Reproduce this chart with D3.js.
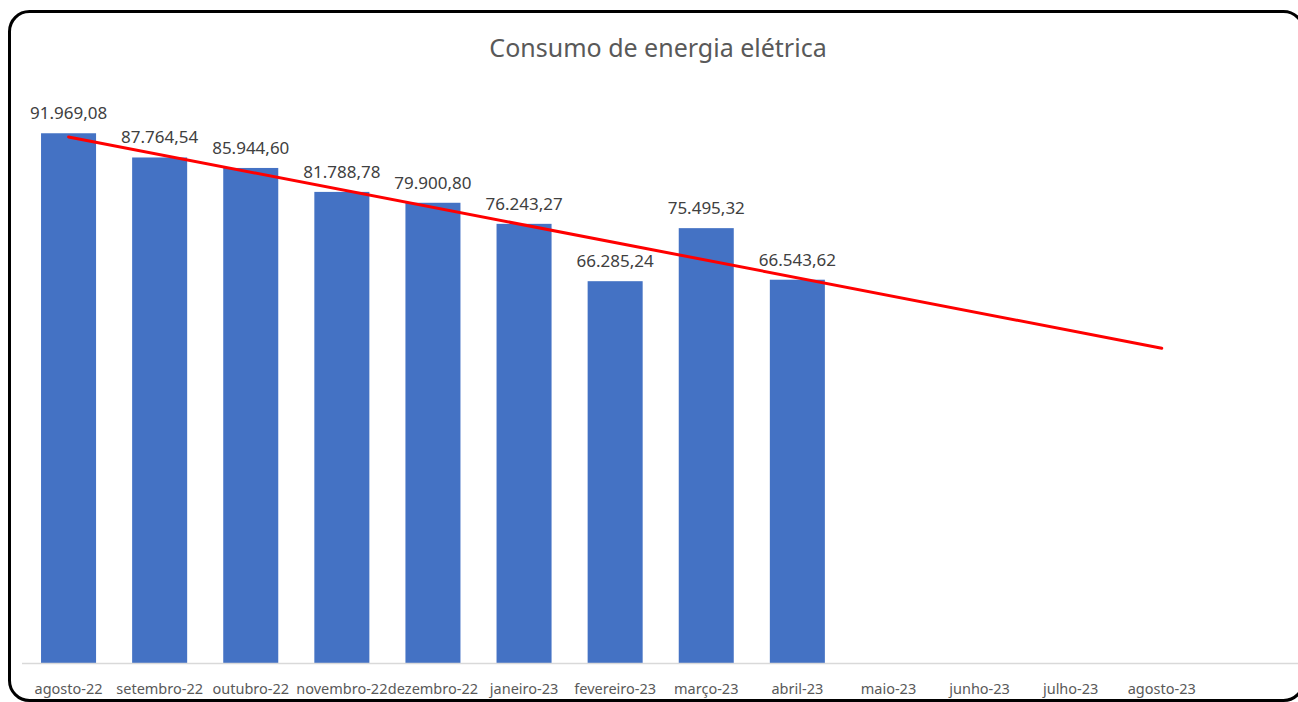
<!DOCTYPE html>
<html>
<head>
<meta charset="utf-8">
<script src="https://cdn.jsdelivr.net/npm/d3@7"></script>
<style>
  html, body { margin: 0; padding: 0; background: #ffffff; }
  svg { display: block; }
  text { font-family: "Noto Sans", "Open Sans", sans-serif; }
</style>
</head>
<body>
<svg id="chart" width="1298" height="702"></svg>
<script>
// ---- data ----
const title = "Consumo de energia elétrica";
const categories = ["agosto-22", "setembro-22", "outubro-22", "novembro-22", "dezembro-22",
  "janeiro-23", "fevereiro-23", "março-23", "abril-23", "maio-23", "junho-23", "julho-23", "agosto-23"];
const values = [91969.08, 87764.54, 85944.60, 81788.78, 79900.80, 76243.27, 66285.24, 75495.32, 66543.62];
const labels = ["91.969,08", "87.764,54", "85.944,60", "81.788,78", "79.900,80", "76.243,27", "66.285,24", "75.495,32", "66.543,62"];
const yMax = 100000;

// ---- layout ----
const svg = d3.select("#chart");
const W = 1298, H = 702;
const plot = { left: 23, right: 1207.3, top: 87, bottom: 663 };

// frame
svg.append("rect")
  .attr("x", 9.5).attr("y", 11.5)
  .attr("width", 1294).attr("height", 689)
  .attr("rx", 20).attr("ry", 20)
  .attr("fill", "#ffffff")
  .attr("stroke", "#000000").attr("stroke-width", 3);

const x = d3.scaleBand()
  .domain(categories)
  .range([plot.left, plot.right])
  .paddingInner(0.396)
  .paddingOuter(0.198);

const y = d3.scaleLinear().domain([0, yMax]).range([plot.bottom, plot.top]);

// title
svg.append("text")
  .attr("x", 658).attr("y", 57)
  .attr("text-anchor", "middle")
  .attr("font-size", 25)
  .attr("fill", "#595959")
  .text(title);

// bars
const data = values.map((v, i) => ({ cat: categories[i], v, label: labels[i] }));
svg.append("g").selectAll("rect").data(data).join("rect")
  .attr("x", d => x(d.cat))
  .attr("width", x.bandwidth())
  .attr("y", d => y(d.v))
  .attr("height", d => y(0) - y(d.v))
  .attr("fill", "#4472C4");

// axis line
svg.append("line")
  .attr("x1", 22).attr("x2", W)
  .attr("y1", y(0) + 0.5).attr("y2", y(0) + 0.5)
  .attr("stroke", "#D9D9D9").attr("stroke-width", 1.5);

// x axis labels via d3 axis
const xAxis = d3.axisBottom(x).tickSize(0).tickPadding(0);
const gx = svg.append("g").attr("transform", `translate(0,${y(0)})`).call(xAxis);
gx.select(".domain").remove();
gx.selectAll("text")
  .attr("dy", null)
  .attr("y", 31)
  .attr("font-size", 14.5)
  .attr("font-family", "Noto Sans, Open Sans, sans-serif")
  .attr("fill", "#595959");

// linear trend line (least squares over data, forecast to last category)
const xs = values.map((_, i) => i + 1);
const mx = d3.mean(xs), my = d3.mean(values);
const slope = d3.sum(xs.map((xi, i) => (xi - mx) * (values[i] - my))) / d3.sum(xs.map(xi => (xi - mx) ** 2));
const intercept = my - slope * mx;
const center = c => x(c) + x.bandwidth() / 2;
const trendPts = [1, categories.length].map(k => [center(categories[k - 1]), y(intercept + slope * k)]);

// data labels
svg.append("g").selectAll("text").data(data).join("text")
  .attr("x", d => center(d.cat))
  .attr("y", d => y(d.v) - 14)
  .attr("text-anchor", "middle")
  .attr("font-size", 17)
  .attr("fill", "#404040")
  .text(d => d.label);

svg.append("path")
  .attr("d", d3.line()(trendPts))
  .attr("fill", "none")
  .attr("stroke", "#FF0000")
  .attr("stroke-width", 3)
  .attr("stroke-linecap", "round");
</script>
</body>
</html>
